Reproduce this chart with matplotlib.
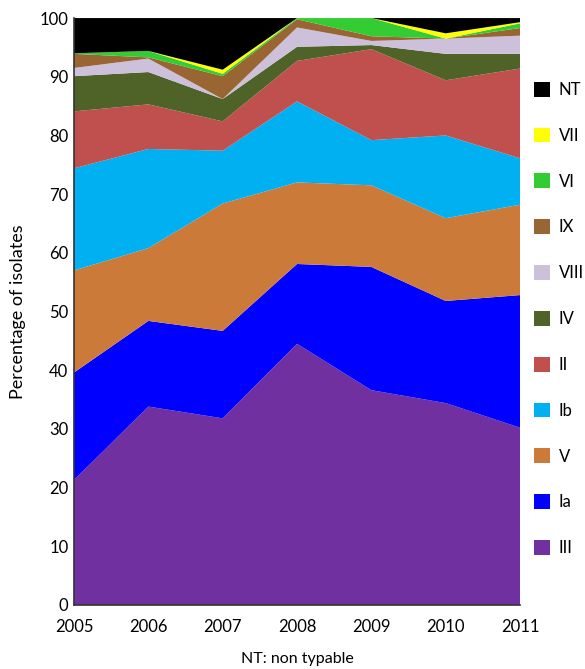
import numpy as np
import matplotlib
matplotlib.use("Agg")
import matplotlib.pyplot as plt
from matplotlib.patches import Patch

plt.rcParams['font.family'] = ['Lato', 'DejaVu Sans']

years = [2005, 2006, 2007, 2008, 2009, 2010, 2011]

# serotype shares (%), bottom to top
III  = [21.3, 33.8, 31.8, 44.5, 36.6, 34.4, 30.2]
Ia   = [18.3, 14.6, 14.9, 13.6, 21.0, 17.4, 22.6]
V    = [17.4, 12.4, 21.7, 13.9, 13.9, 14.1, 15.4]
Ib   = [17.4, 16.9,  9.0, 13.8,  7.7, 14.1,  7.9]
II   = [ 9.7,  7.6,  5.0,  6.9, 15.5,  9.4, 15.3]
IV   = [ 6.0,  5.5,  3.8,  2.4,  0.7,  4.5,  2.5]
VIII = [ 1.4,  2.3,  0.0,  3.3,  0.7,  2.6,  3.1]
IX   = [ 2.4,  0.2,  3.9,  1.4,  0.8,  0.0,  1.3]
VI   = [ 0.1,  1.1,  0.4,  0.2,  3.1,  0.0,  0.8]
VII  = [ 0.0,  0.0,  0.7,  0.0,  0.0,  0.9,  0.2]
NT   = [ 6.0,  5.6,  8.8,  0.0,  0.0,  2.6,  0.7]

labels = ['III', 'Ia', 'V', 'Ib', 'II', 'IV', 'VIII', 'IX', 'VI', 'VII', 'NT']
series = [III, Ia, V, Ib, II, IV, VIII, IX, VI, VII, NT]
colors = ['#7030A0', '#0000FF', '#CC7A3A', '#00B0F0', '#C0504D', '#4F6228',
          '#CCC0DA', '#996633', '#33CC33', '#FFFF00', '#000000']

fig = plt.figure(figsize=(5.85, 6.69), dpi=100)
ax = fig.add_axes([0.1265, 0.0957, 0.7625, 0.8773])

ax.stackplot(years, *series, colors=colors, linewidth=0)

ax.set_xlim(2005, 2011)
ax.set_ylim(0, 100)
ax.set_yticks(range(0, 101, 10))
ax.set_xticks(years)
ax.tick_params(length=0, labelsize=12, pad=4)
ax.tick_params(axis='x', pad=10)
for s in ['top', 'right']:
    ax.spines[s].set_visible(False)
for s in ['left', 'bottom']:
    ax.spines[s].set_color('#333333')
    ax.spines[s].set_linewidth(1.2)

ax.set_ylabel('Percentage of isolates', fontsize=13, labelpad=10)
ax.set_xlabel('NT: non typable', fontsize=11.5, labelpad=12)

handles = [Patch(facecolor=c, edgecolor='none') for c in colors[::-1]]
ax.legend(handles, labels[::-1], loc='upper left', bbox_to_anchor=(0.993, 0.92),
          frameon=False, fontsize=12, labelspacing=1.78, handlelength=1.0,
          handleheight=1.0, handletextpad=0.5, borderaxespad=0.6)

fig.savefig('out.png', dpi=100)
